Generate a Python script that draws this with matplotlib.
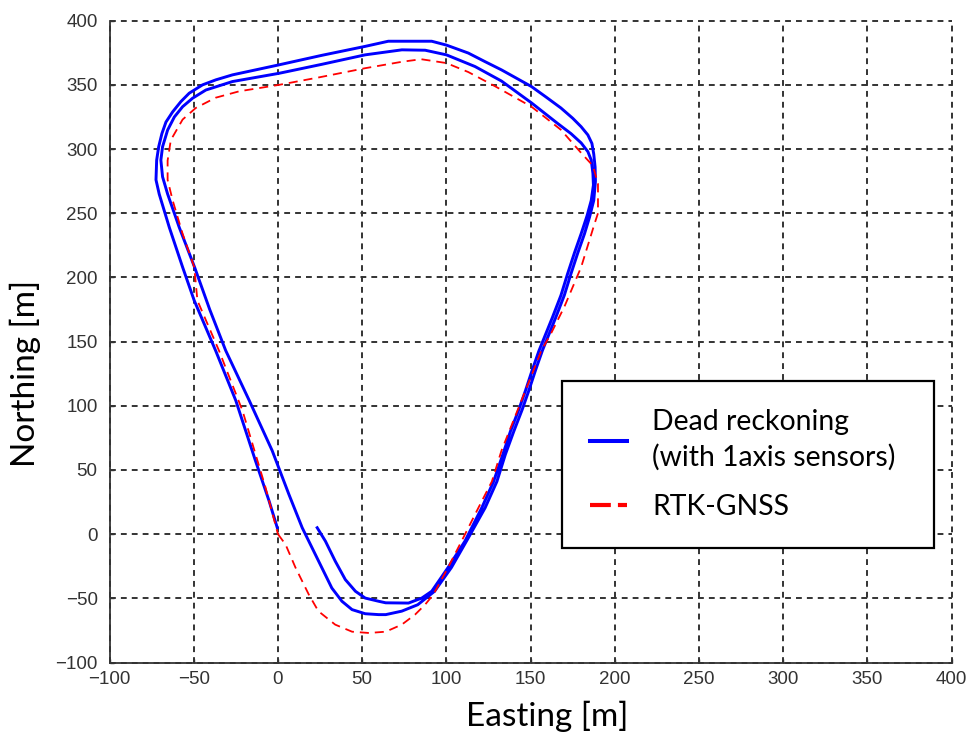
import matplotlib
matplotlib.use("Agg")
import matplotlib.pyplot as plt
from matplotlib.lines import Line2D

# ---------------- data ----------------
# Dead reckoning trajectory (two laps, one continuous track)
dr_east = [23.3, 28.2, 34, 40, 46, 51.8, 59.8, 64, 77.5, 85.4, 91.3, 101, 111, 121, 128,
           133.5, 138, 143, 147, 151, 155, 159, 163, 168, 172, 176, 180, 183.5,
           186, 187.3, 187, 186, 184, 180, 174, 166, 150.5, 132.7, 117, 100, 87.4, 73.6,
           51.8, 26, 0.6, -27, -42.8, -50.7, -56.6, -61.5, -65.5, -68.5, -69.5, -68.5,
           -65.5, -58.6, -49.5, -40.5, -31, -17, -3.4, 6.5, 14.4, 20.3, 26, 32, 38, 44,
           51.8, 59.8, 64, 73.5, 83, 93, 103, 113, 123, 130,
           135, 140, 145, 149, 153, 157, 161, 165, 170, 174, 178, 182, 185,
           187.5, 188.5, 188.3, 187.5, 186.4, 184, 180, 175, 168, 159.3, 150.5,
           141.6, 132.7, 122.8, 113, 100, 91.3, 73.6, 65.5, 51.8, 26, 0.6, -13.3,
           -27, -36.9, -44.8, -52.7, -57.6, -62.5, -66.5, -68.9, -70.8, -72, -72.4,
           -70.5, -64.5, -56.6, -49.7, -37, -25, -13.3, -5.3, -0.4]
dr_north = [5, -5.5, -21, -35.4, -44.5, -49.8, -52.3, -53.5, -53.7, -49.8, -44.5, -26, -5.5, 20.5, 41,
            62, 80, 97, 112, 128, 143, 156, 169, 186, 203, 219, 234, 248,
            260, 272, 281, 291.4, 298, 304.8, 312, 320, 336, 353, 364.3, 373.4, 377, 377.3,
            373.4, 366, 359, 352.6, 346, 339.6, 333, 325, 314.8, 301.8, 291.4, 278.4,
            265, 239, 208, 175, 143, 104, 65, 31, 5, -10.7, -26, -42, -52.3, -58.8,
            -62, -62.7, -62.7, -60, -55, -44.5, -26, -3, 20.5, 41,
            62, 80, 97, 112, 128, 143, 156, 169, 186, 203, 219, 234, 247,
            260, 275, 286, 296, 304.4, 311, 317.4, 324, 332, 340.4, 348.7,
            355.2, 361.7, 368.2, 374.8, 381, 384, 384, 384, 380, 373, 365.6, 361.7,
            357.8, 353.9, 350, 343.5, 337, 329, 321, 312, 301.8, 291.4, 276,
            265, 239, 208, 182, 143, 104, 57, 26, 5]

# RTK-GNSS reference trajectory (one lap)
rtk_east = [0, 4.5, 10.4, 18.3, 24, 34, 44, 54, 64, 73.5, 81.4, 87.3, 92.3,
            101, 109, 119, 127, 132.7, 140.6, 148.5, 156.4, 162, 170, 180,
            188, 190, 190, 187, 180, 175, 168, 159.3, 150.5, 128.8, 113, 100, 85,
            73.6, 51.8, 25, 0.6, -23, -37, -48.8, -56.6, -63.6, -65.5, -65.5,
            -62.5, -56.6, -49.7, -47.8, -35, -21, -7.3, 0]
rtk_north = [0, -8, -26, -47, -60, -70.5, -76, -77, -76, -70.5, -62.7, -55, -47,
             -26, -5.5, 20.5, 41, 65, 91, 117, 143, 156, 177, 208,
             242, 250, 273, 287, 297, 304.5, 315, 324, 333, 349, 360, 367, 370,
             368, 363, 356, 350, 345, 340, 332, 323, 307, 291, 276,
             260, 234, 208, 182, 143, 96, 36, 0]

x_ticks = [-100, -50, 0, 50, 100, 150, 200, 250, 300, 350, 400]
y_ticks = [-100, -50, 0, 50, 100, 150, 200, 250, 300, 350, 400]
labels = ["Dead reckoning\n(with 1axis sensors)", "RTK-GNSS"]

# ---------------- figure ----------------
W, H = 973, 733
fig = plt.figure(figsize=(W / 100, H / 100), dpi=100)
L, R, T, B = 109.5, 951.7, 20.7, 662.5
ax = fig.add_axes([L / W, (H - B) / H, (R - L) / W, (B - T) / H])

ax.plot(dr_east, dr_north, color="#0000ff", lw=2.1, zorder=3)
ax.plot(rtk_east, rtk_north, color="#ff0000", lw=1.3,
        linestyle=(0, (5, 3.3)), zorder=4)

ax.set_xlim(-100, 400)
ax.set_ylim(-100, 400)
ax.set_xticks(x_ticks)
ax.set_yticks(y_ticks)

ax.grid(True, color="#333333", linestyle=(0, (3, 2.6)), lw=1.4, zorder=1)
for gl in ax.get_xgridlines() + ax.get_ygridlines():
    gl.set_clip_on(False)

for s in ["top", "right"]:
    ax.spines[s].set_visible(False)
for s in ["left", "bottom"]:
    ax.spines[s].set_linewidth(1.3)
    ax.spines[s].set_color("#333333")

ax.tick_params(direction="in", length=3, width=1.0, color="#333333",
               labelsize=13.5)
ax.tick_params(axis="x", pad=6.0)
ax.tick_params(axis="y", pad=8.5)
for lab in ax.get_xticklabels() + ax.get_yticklabels():
    lab.set_fontfamily("Liberation Sans")
    lab.set_color("#333333")

ax.set_xlabel("Easting [m]", family="Lato", fontsize=24)
ax.set_ylabel("Northing [m]", family="Lato", fontsize=24)
ax.xaxis.set_label_coords(0.52, -0.06)
ax.yaxis.set_label_coords(-0.0813, 0.45)

handles = [Line2D([], [], color="#0000ff", lw=2.9),
           Line2D([], [], color="#ff0000", lw=3, linestyle=(0, (5, 1.7)))]
leg = ax.legend(handles, labels, loc="upper left",
                bbox_to_anchor=(0.5373, 0, 0.4417, 0.4386), mode="expand",
                borderaxespad=0, prop={"family": "Lato", "size": 20.4},
                handlelength=1.3, handletextpad=0.88, borderpad=1.0,
                labelspacing=0.8, fancybox=False, framealpha=1,
                edgecolor="black")
leg.get_frame().set_linewidth(1.6)
for t in leg.get_texts():
    t.set_linespacing(1.4)

fig.savefig("out.png", dpi=100)
